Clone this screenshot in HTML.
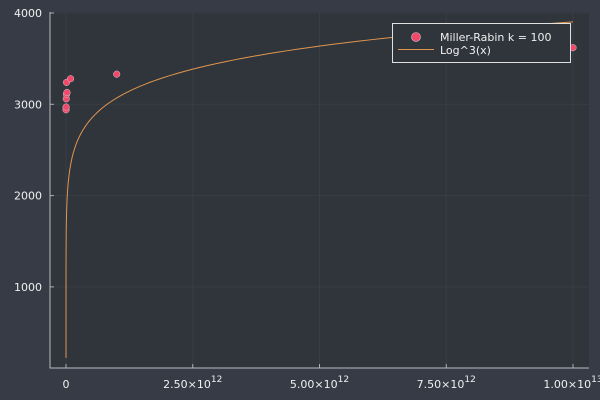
<!DOCTYPE html>
<html><head><meta charset="utf-8"><style>
body{margin:0;background:#363b45;}
svg{display:block;font-family:"DejaVu Sans","Liberation Sans",sans-serif;}
</style></head><body>
<svg id="c" width="600" height="400">
<rect width="600" height="400" fill="#363b45"/>
<rect x="50" y="12" width="539" height="356" fill="#30343b"/>
</svg>
<script>
const xTicks=[0,2.5e12,5e12,7.5e12,1e13];
const xTickMant=["","2.50","5.00","7.50","1.00"];
const xTickExp=["","12","12","12","13"];
const yTicks=[1000,2000,3000,4000];
const ptX=[1e9,2e9,5e9,1e10,2e10,1e10,9e10,1e12,1e13];
const ptY=[2940,2970,3060,3110,3130,3240,3280,3330,3620];
const curveC=0.1455;
const curveMin=1e5, curveMax=1e13;
const svg=document.getElementById('c');
const NS='http://www.w3.org/2000/svg';
const sx=v=>66+v/1e13*507;
const sy=v=>13+(4000-v)*0.0913;
function mk(t,a,p){const e=document.createElementNS(NS,t);for(const k in a)e.setAttribute(k,a[k]);(p||svg).appendChild(e);return e;}
xTicks.forEach((t,i)=>{
 const g=mk('line',{x1:sx(t),x2:sx(t),y1:12,y2:368,stroke:'#393d44','stroke-width':1});
 
 
 const tk=mk('line',{x1:sx(t),x2:sx(t),y1:368,y2:364,stroke:'#aab0b8'});
 
 
 const tx=mk('text',{x:sx(t),y:388,fill:'#f0f0f0','font-size':11,'text-anchor':'middle'});
 
 
 if(i===0){tx.textContent='0';}
 else{tx.textContent=xTickMant[i]+'×10';const s=mk('tspan',{dy:-6,'font-size':9},tx);s.textContent=xTickExp[i];}
});
yTicks.forEach(t=>{
 const g=mk('line',{x1:50,x2:589,y1:sy(t),y2:sy(t),stroke:'#393d44'});
 
 
 const tk=mk('line',{x1:50,x2:54,y1:sy(t),y2:sy(t),stroke:'#aab0b8'});
 
 
 const tx=mk('text',{x:42,y:sy(t)+4,fill:'#f0f0f0','font-size':11,'text-anchor':'end'});
 
 
 tx.textContent=t;
});
const ax=mk('path',{d:'M50 12V368H589',fill:'none',stroke:'#b8bcc2','stroke-width':1});


let d='';
for(let i=0;i<=400;i++){const lx=Math.log(curveMin)+(Math.log(curveMax)-Math.log(curveMin))*i/400;const x=Math.exp(lx);const y=curveC*Math.pow(Math.log(x),3);d+=(i?'L':'M')+sx(x).toFixed(2)+' '+sy(y).toFixed(2);}
const cl=mk('path',{d:d,fill:'none',stroke:'#e1964e','stroke-width':1});


ptX.forEach((x,i)=>{
 const c=mk('circle',{cx:sx(x),cy:sy(ptY[i]),r:3.3,fill:'#f2486a',stroke:'#c8c8d0','stroke-width':0.5});
 
 
});
const lg=mk('g',{});


mk('rect',{x:392.5,y:23.5,width:178,height:39,fill:'#30343b',stroke:'#e0e0e0','stroke-width':1},lg);
const lm=mk('circle',{cx:416,cy:37,r:4.5,fill:'#f2486a',stroke:'#c8c8d0','stroke-width':0.6},lg);


const ll=mk('line',{x1:398,x2:434,y1:49.5,y2:49.5,stroke:'#e1964e'},lg);


const t1=mk('text',{x:440,y:41,fill:'#f0f0f0','font-size':11},lg);t1.textContent='Miller-Rabin k = 100';


const t2=mk('text',{x:440,y:54,fill:'#f0f0f0','font-size':11},lg);t2.textContent='Log^3(x)';


</script>
</body></html>
